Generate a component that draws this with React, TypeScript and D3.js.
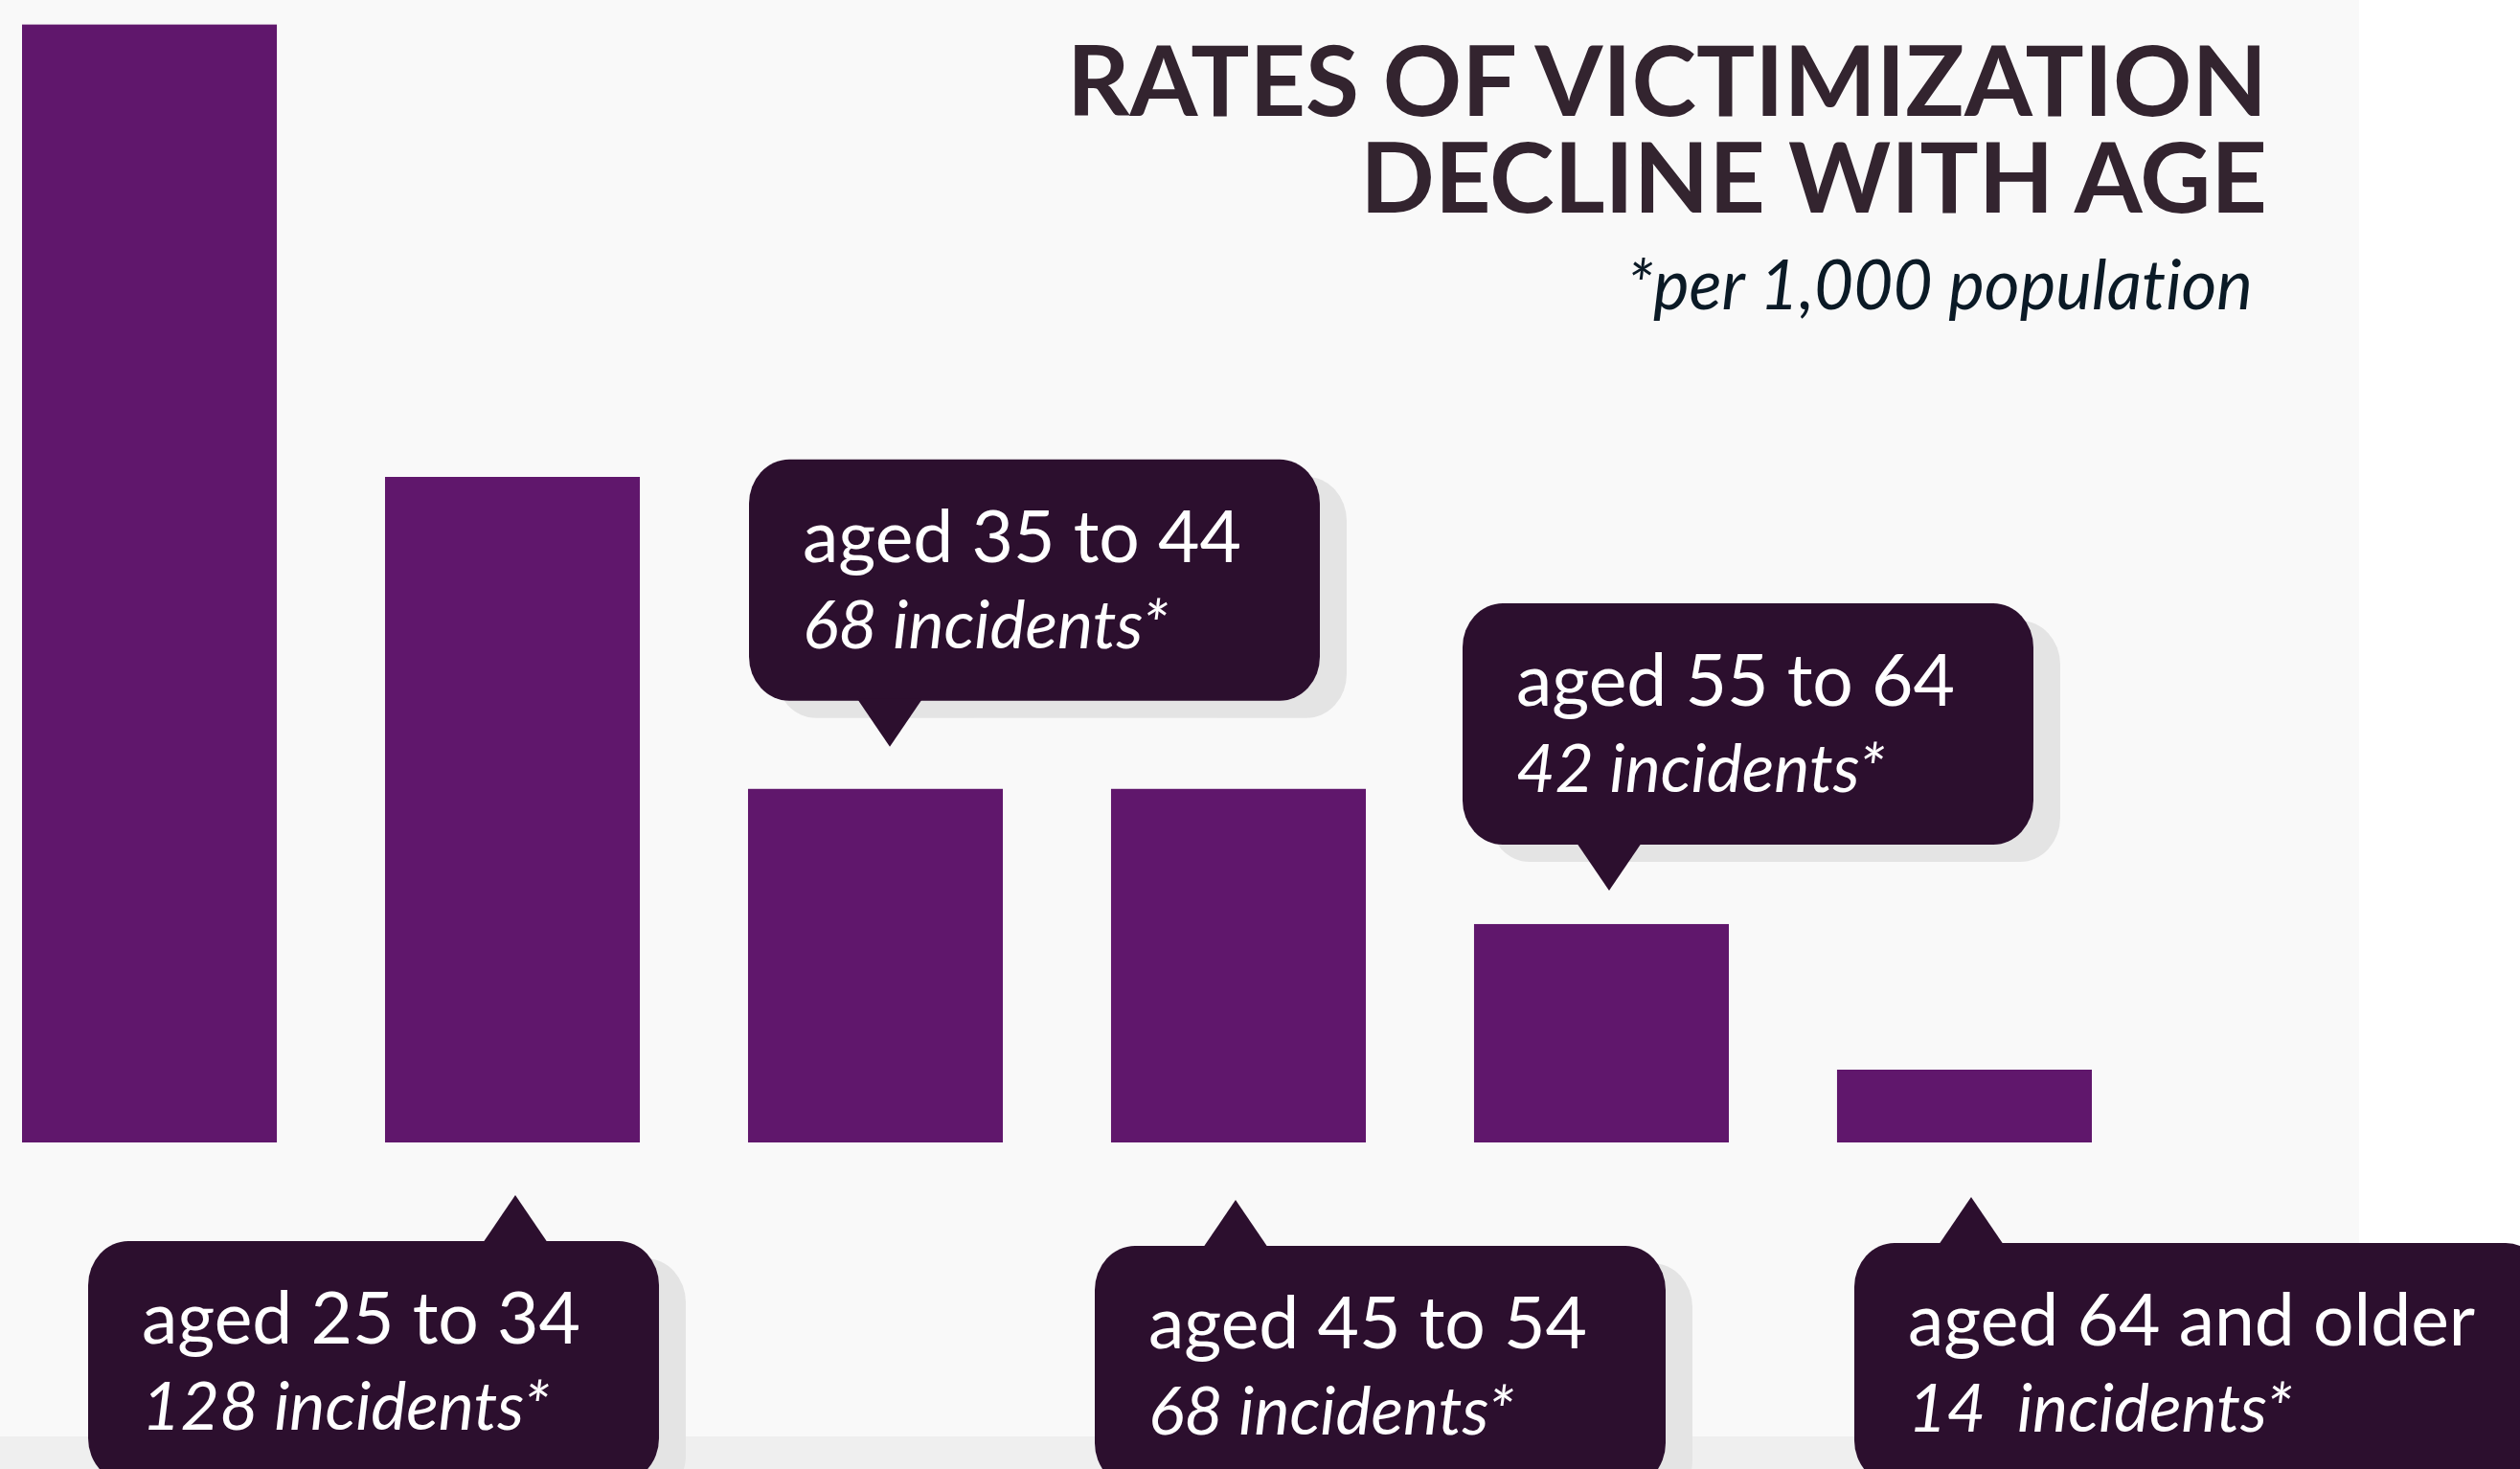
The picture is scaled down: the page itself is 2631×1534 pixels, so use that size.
import React, { useMemo } from "react";
import * as d3 from "d3";

// ---- data ----
const categories = ["aged under 25", "aged 25 to 34", "aged 35 to 44", "aged 45 to 54", "aged 55 to 64", "aged 64 and older"];
const values = [215, 128, 68, 68, 42, 14];
const calloutTitles = ["", "aged 25 to 34", "aged 35 to 44", "aged 45 to 54", "aged 55 to 64", "aged 64 and older"];
const calloutSubs = ["", "128 incidents*", "68 incidents*", "68 incidents*", "42 incidents*", "14  incidents*"];
const titleLines = ["RATES OF VICTIMIZATION", "DECLINE WITH AGE"];
const subtitle = "*per 1,000 population";

// ---- layout (not data) ----
const W = 2631;
const H = 1534;
const BASE = 1193;
// placement of each callout: side, box-left offset, pointer offset from bar centre, gap from bar end to pointer tip
const calloutSide = ["none", "below", "above", "below", "above", "below"];
const boxOffset = [0, -443, -132, -150, -145, -115];
const pointerOffset = [0, 3, 15, -3, 8, 7];
const pointerGap = [0, 55, 44, 60, 35, 57];

const BAR = "#60176c";
const CALL = "#2c0f2e";
const SHADOW = "#e4e4e4";
const FONT = "Lato, 'Open Sans', sans-serif";
const T1 = 75;
const T2 = 70;

function measure(text: string, font: string) {
  const c = document.createElement("canvas").getContext("2d");
  if (!c) return text.length * 35;
  c.font = font;
  return c.measureText(text).width;
}

export default function App() {
  const x = d3.scaleBand<string>().domain(categories).range([23, 2184]).paddingInner(0.298).paddingOuter(0);
  const y = d3.scaleLinear().domain([0, 128]).range([BASE, 498]);

  const callouts = useMemo(() => {
    return categories.map((c, i) => {
      if (calloutSide[i] === "none") return null;
      const cx = (x(c) as number) + x.bandwidth() / 2;
      const px = cx + pointerOffset[i];
      const boxLeft = cx + boxOffset[i];
      const tw = Math.max(
        measure(calloutTitles[i], `${T1}px ${FONT}`),
        measure(calloutSubs[i], `italic ${T2}px ${FONT}`)
      );
      const bw = Math.max(596, tw + 130);
      const bh = 252;
      let apexY: number, boxTop: number, baseY: number;
      if (calloutSide[i] === "above") {
        apexY = y(values[i]) - pointerGap[i];
        baseY = apexY - 48;
        boxTop = baseY - bh;
      } else {
        apexY = BASE + pointerGap[i];
        baseY = apexY + 48;
        boxTop = baseY;
      }
      return { i, px, boxLeft, bw, bh, apexY, baseY, boxTop };
    });
  }, []);

  const lig = { fontVariantLigatures: "none", whiteSpace: "pre" } as React.CSSProperties;

  return (
    <svg
      width={W}
      height={H}
      style={{ position: "absolute", left: 0, top: 0, display: "block" }}
      xmlns="http://www.w3.org/2000/svg"
    >
      <rect x={0} y={0} width={W} height={H} fill="#ffffff" />
      <rect x={0} y={0} width={2463} height={1500} fill="#f9f9f9" />
      <rect x={0} y={1500} width={W} height={H - 1500} fill="#efefef" />

      {categories.map((c, i) => (
        <rect key={c} x={x(c)} y={y(values[i])} width={x.bandwidth()} height={BASE - y(values[i])} fill={BAR} />
      ))}

      {callouts.map((co) => {
        if (!co) return null;
        const { i, px, boxLeft, bw, bh, apexY, baseY, boxTop } = co;
        const d = calloutSide[i] === "above" ? -2 : 2;
        const tri = `M${px - 34},${baseY + d} L${px},${apexY} L${px + 34},${baseY + d} Z`;
        return (
          <g key={i}>
            <rect x={boxLeft + 28} y={boxTop + 18} width={bw} height={bh} rx={42} ry={46} fill={SHADOW} />
            <rect x={boxLeft} y={boxTop} width={bw} height={bh} rx={42} ry={46} fill={CALL} />
            <path d={tri} fill={CALL} />
            <text x={boxLeft + 56} y={boxTop + 107} fill="#ffffff" fontFamily={FONT} fontSize={T1} style={lig}>
              {calloutTitles[i]}
            </text>
            <text x={boxLeft + 56} y={boxTop + 197} fill="#ffffff" fontFamily={FONT} fontSize={T2} fontStyle="italic" style={lig}>
              {calloutSubs[i]}
            </text>
          </g>
        );
      })}

      <text x={2367} y={121} textAnchor="end" fill="#33242f" fontFamily={FONT} fontWeight={700} fontSize={102} style={lig}>
        {titleLines[0]}
      </text>
      <text x={2367} y={222} textAnchor="end" fill="#33242f" fontFamily={FONT} fontWeight={700} fontSize={102} style={lig}>
        {titleLines[1]}
      </text>
      <text x={2352} y={323} textAnchor="end" fill="#0b1a26" fontFamily={FONT} fontStyle="italic" fontSize={71} style={lig}>
        {subtitle}
      </text>
    </svg>
  );
}
